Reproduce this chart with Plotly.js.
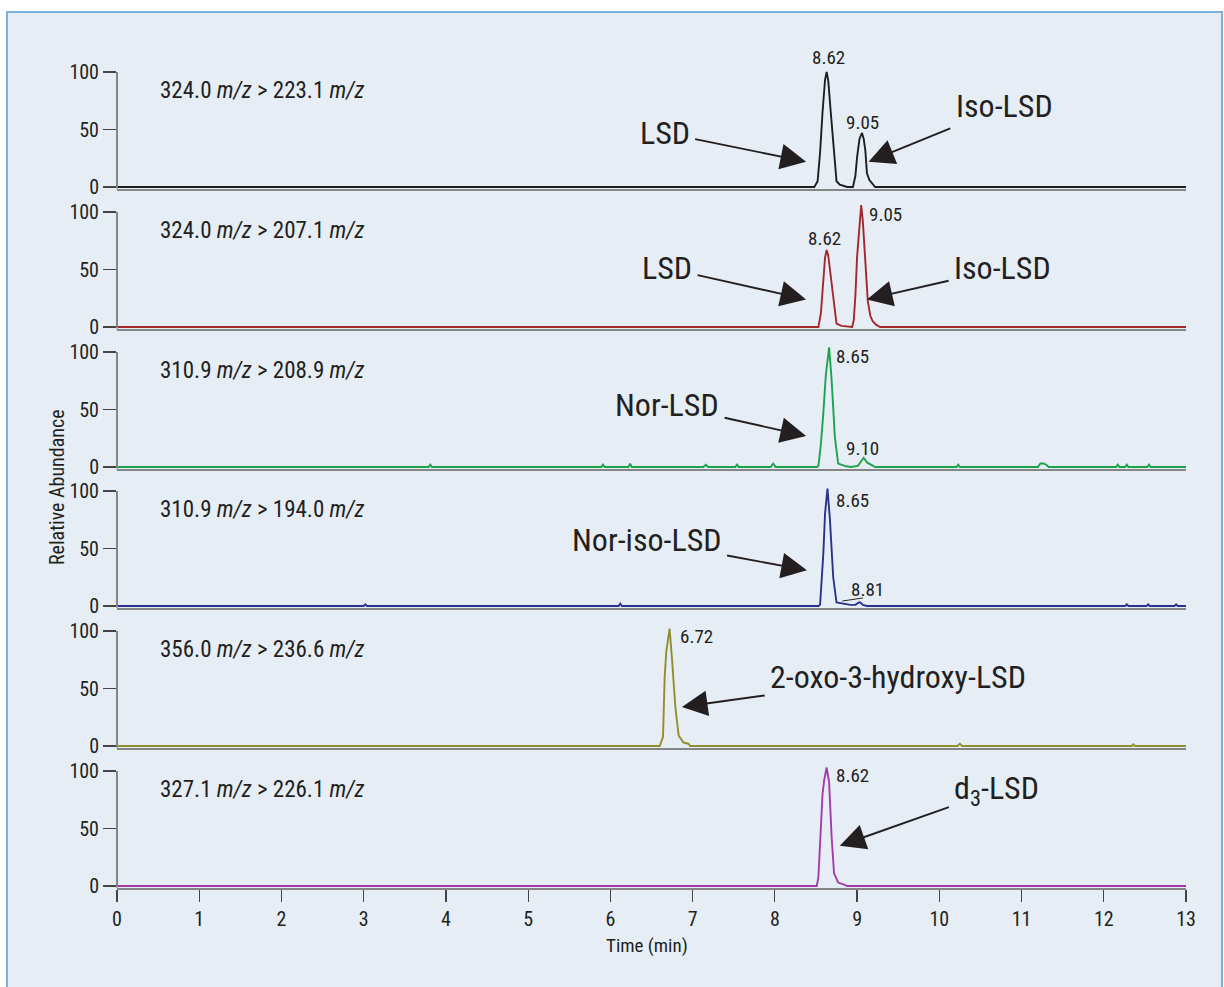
<!DOCTYPE html>
<html>
<head>
<meta charset="utf-8">
<script src="https://cdn.plot.ly/plotly-3.0.1.min.js"></script>
<style>html,body{margin:0;padding:0;background:#fff;}#chart{width:1224px;height:987px;}</style>
</head>
<body>
<div id="chart"></div>
<script>
// ---------------- DATA ----------------
const panelLabels = [
  "324.0 <i>m/z</i> &gt; 223.1 <i>m/z</i>",
  "324.0 <i>m/z</i> &gt; 207.1 <i>m/z</i>",
  "310.9 <i>m/z</i> &gt; 208.9 <i>m/z</i>",
  "310.9 <i>m/z</i> &gt; 194.0 <i>m/z</i>",
  "356.0 <i>m/z</i> &gt; 236.6 <i>m/z</i>",
  "327.1 <i>m/z</i> &gt; 226.1 <i>m/z</i>"
];
const traceColors = ["#1e1e1e", "#a3282b", "#1ba24c", "#2b318f", "#8f8f2e", "#a23aa9"];

// Panel 1: 324.0 > 223.1
const t1 = [0, 8.48, 8.52, 8.55, 8.58, 8.61, 8.63, 8.65, 8.68, 8.71, 8.73, 8.75, 8.79, 8.85, 8.88, 8.95, 8.98, 9.00, 9.03, 9.06, 9.08, 9.10, 9.12, 9.15, 9.18, 9.22, 13];
const y1 = [0, 0, 5, 30, 65, 93, 100, 92, 65, 38, 15, 5, 2, 1, 0, 0, 10, 26, 42, 47, 42, 32, 12, 6, 3, 0, 0];

// Panel 2: 324.0 > 207.1
const t2 = [0, 8.53, 8.56, 8.59, 8.61, 8.63, 8.65, 8.67, 8.70, 8.73, 8.75, 8.81, 8.94, 8.96, 8.98, 9.00, 9.03, 9.05, 9.07, 9.10, 9.13, 9.16, 9.19, 9.23, 9.28, 13];
const y2 = [0, 0, 12, 40, 60, 67, 62, 50, 32, 12, 3, 1, 0, 6, 28, 61, 92, 106, 92, 56, 23, 10, 5, 2, 0, 0];

// Panel 3: 310.9 > 208.9
const t3 = [0, 3.79, 3.81, 3.83, 5.89, 5.91, 5.93, 6.22, 6.24, 6.26, 7.13, 7.16, 7.19, 7.52, 7.54, 7.56, 7.95, 7.98, 8.01,
            8.51, 8.53, 8.56, 8.59, 8.62, 8.66, 8.69, 8.73, 8.77, 8.85, 8.92, 9.01, 9.04, 9.06, 9.08, 9.12, 9.15, 9.18, 9.22,
            10.21, 10.23, 10.25, 11.20, 11.23, 11.27, 11.30, 11.33, 12.15, 12.17, 12.19, 12.26, 12.28, 12.30, 12.53, 12.55, 12.57, 13];
const y3 = [0, 0, 2, 0, 0, 2, 0, 0, 3, 0, 0, 2, 0, 0, 2, 0, 0, 3, 0,
            0, 1, 20, 47, 80, 104, 76, 26, 3, 1, 0, 1, 4, 7, 8, 4, 3, 2, 0,
            0, 2, 0, 0, 3, 3, 2, 0, 0, 2, 0, 0, 2, 0, 0, 2, 0, 0];

// Panel 4: 310.9 > 194.0
const t4 = [0, 3.00, 3.02, 3.04, 6.10, 6.12, 6.14, 8.53, 8.55, 8.57, 8.59, 8.61, 8.64, 8.67, 8.71, 8.75, 8.83, 8.92, 8.98, 9.02, 9.04, 9.07, 9.12,
            12.26, 12.28, 12.30, 12.52, 12.54, 12.56, 12.86, 12.88, 12.90, 13];
const y4 = [0, 0, 1.5, 0, 0, 2, 0, 0, 1, 20, 46, 80, 102, 75, 25, 3, 2, 1, 1, 3, 3, 1, 0,
            0, 1.5, 0, 0, 1.5, 0, 0, 1.5, 0, 0];

// Panel 5: 356.0 > 236.6
const t5 = [0, 6.60, 6.64, 6.66, 6.68, 6.70, 6.72, 6.75, 6.79, 6.83, 6.89, 6.95, 6.97, 10.22, 10.25, 10.28, 12.34, 12.36, 12.38, 13];
const y5 = [0, 0, 8, 60, 82, 92, 102, 75, 34, 9, 3, 2, 0, 0, 2, 0, 0, 1.5, 0, 0];

// Panel 6: 327.1 > 226.1
const t6 = [0, 8.51, 8.53, 8.56, 8.58, 8.60, 8.63, 8.66, 8.69, 8.72, 8.77, 8.85, 8.88, 13];
const y6 = [0, 0, 8, 60, 80, 92, 103, 90, 43, 11, 3, 1, 0, 0];

const times = [t1, t2, t3, t4, t5, t6];
const abund = [y1, y2, y3, y4, y5, y6];

// Peak retention-time labels: [panel, text, x, y]
const peakLabels = [
  [0, "8.62", 8.65, 110], [0, "9.05", 9.06, 56.5],
  [1, "8.62", 8.60, 77],  [1, "9.05", 9.34, 98],
  [2, "8.65", 8.94, 96.5], [2, "9.10", 9.07, 16.5],
  [3, "8.65", 8.94, 92],  [3, "8.81", 9.13, 14],
  [4, "6.72", 7.05, 95],
  [5, "8.62", 8.94, 96]
];
// Compound labels with arrows: [panel, text, textX, textY, tipX, tipY]
const compoundLabels = [
  [0, "LSD", 6.66, 47, 8.38, 22],
  [0, "Iso-LSD", 10.79, 70, 9.14, 22],
  [1, "LSD", 6.69, 51, 8.38, 24],
  [1, "Iso-LSD", 10.77, 51, 9.12, 24],
  [2, "Nor-LSD", 6.69, 54, 8.38, 27],
  [3, "Nor-iso-LSD", 6.44, 57, 8.39, 31],
  [4, "2-oxo-3-hydroxy-LSD", 9.50, 60, 6.87, 34],
  [5, "d<sub>3</sub>-LSD", 10.70, 83.5, 8.79, 35]
];
const xTicks = [0,1,2,3,4,5,6,7,8,9,10,11,12,13];
const yTicks = [0, 50, 100];

// ---------------- LAYOUT ----------------
const W = 1224, H = 987;
const ML = 117, MR = 38;
const PW = W - ML - MR;
const FONT = '"Liberation Sans Narrow", "Roboto Condensed", "DejaVu Sans Condensed", Arial, sans-serif';
const panelZeroPx = [187, 327, 467, 606, 746, 886];
const PX_PER_UNIT = 1.15;
const YMIN = -1.5, YMAX = 110;

const layout = {
  width: W, height: H,
  margin: {l: ML, r: MR, t: 0, b: 0},
  paper_bgcolor: "#ffffff",
  plot_bgcolor: "rgba(0,0,0,0)",
  showlegend: false,
  font: {family: FONT, color: "#231f20", size: 18},
  shapes: [], annotations: []
};

function px2py(p) { return 1 - p / H; }
function px2px(p) { return (p - ML) / PW; }

// background panel with border
layout.shapes.push({
  type: "rect", xref: "paper", yref: "paper", layer: "below",
  x0: px2px(7), x1: px2px(1222), y0: px2py(1000), y1: px2py(12),
  fillcolor: "#e6edf5", line: {color: "#7ab2dd", width: 2}
});

const traces = [];
for (let k = 0; k < 6; k++) {
  const sfx = k === 0 ? "" : String(k + 1);
  const y0 = panelZeroPx[k];
  const bottomPx = y0 + (0 - YMIN) * PX_PER_UNIT;
  const topPx = y0 - YMAX * PX_PER_UNIT;
  const last = k === 5;
  layout["xaxis" + sfx] = {
    domain: [0, 1], anchor: "y" + sfx, range: [0, 13],
    showline: true, linecolor: "#858585", linewidth: 2,
    showgrid: false, zeroline: false,
    ticks: last ? "outside" : "", ticklen: 12, tickcolor: "#444", tickwidth: 1.3,
    tickvals: xTicks, showticklabels: last,
    tickfont: {family: FONT, size: 20, color: "#231f20"},
    fixedrange: true
  };
  layout["yaxis" + sfx] = {
    domain: [px2py(bottomPx), px2py(topPx)], anchor: "x" + sfx,
    range: [YMIN, YMAX],
    showline: false, showgrid: false, zeroline: false,
    ticks: "outside", ticklen: 13, tickcolor: "#444", tickwidth: 1.3,
    tickvals: yTicks, ticktext: yTicks.map(String),
    tickfont: {family: FONT, size: 20, color: "#231f20"},
    fixedrange: true
  };
  layout.shapes.push({
    type: "line", xref: "paper", yref: "y" + sfx,
    x0: 0, x1: 0, y0: YMIN, y1: 100,
    line: {color: "#858585", width: 2}
  });
  traces.push({
    type: "scatter", mode: "lines",
    x: times[k], y: abund[k],
    xaxis: "x" + sfx, yaxis: "y" + sfx,
    line: {color: traceColors[k], width: 1.9},
    hoverinfo: "skip"
  });
  layout.annotations.push({
    xref: "x" + sfx, yref: "y" + sfx, x: 0.50, y: 84,
    xanchor: "left", yanchor: "middle", showarrow: false,
    text: panelLabels[k], font: {family: FONT, size: 23, color: "#231f20"}
  });
}

peakLabels.forEach(([k, txt, x, y]) => {
  const sfx = k === 0 ? "" : String(k + 1);
  const ann = {
    xref: "x" + sfx, yref: "y" + sfx, x: x, y: Math.min(y, 100),
    xanchor: "center", yanchor: "middle", showarrow: false,
    text: txt, font: {family: FONT, size: 19, color: "#231f20"}
  };
  if (y > 100) { ann.yanchor = "bottom"; ann.yshift = 1; }
  layout.annotations.push(ann);
});

compoundLabels.forEach(([k, txt, ax, ay, x, y]) => {
  const sfx = k === 0 ? "" : String(k + 1);
  layout.annotations.push({
    xref: "x" + sfx, yref: "y" + sfx, axref: "x" + sfx, ayref: "y" + sfx,
    x: x, y: y, ax: ax, ay: ay,
    showarrow: true, arrowhead: 2, arrowsize: 2.7, arrowwidth: 1.9,
    arrowcolor: "#231f20", standoff: 0, borderpad: 5,
    text: txt, font: {family: FONT, size: 32, color: "#231f20"}
  });
});

// small leader line under "8.81"
layout.shapes.push({
  type: "line", xref: "x4", yref: "y4", x0: 8.82, x1: 9.07, y0: 4.3, y1: 7,
  line: {color: "#231f20", width: 1}
});

// axis titles
layout.annotations.push({
  xref: "paper", yref: "paper", x: px2px(647), y: px2py(945),
  xanchor: "center", yanchor: "middle", showarrow: false,
  text: "Time (min)", font: {family: FONT, size: 19, color: "#231f20"}
});
layout.annotations.push({
  xref: "paper", yref: "paper", x: px2px(57), y: px2py(487),
  xanchor: "center", yanchor: "middle", showarrow: false, textangle: -90,
  text: "Relative Abundance", font: {family: FONT, size: 20, color: "#231f20"}
});

Plotly.newPlot("chart", traces, layout, {staticPlot: true, displayModeBar: false});
</script>
</body>
</html>
